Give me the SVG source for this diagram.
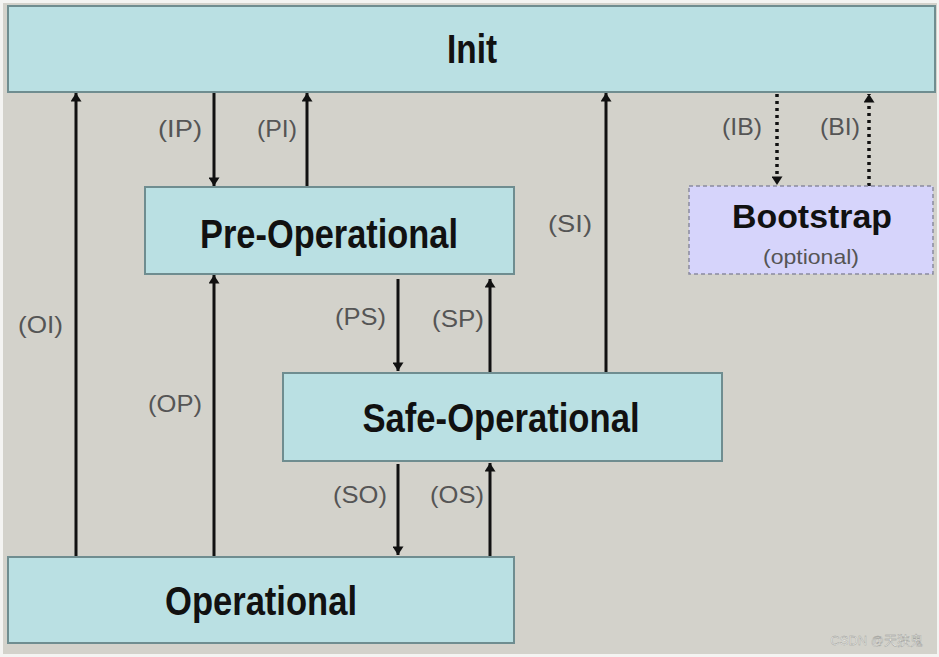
<svg xmlns="http://www.w3.org/2000/svg" width="939" height="657" viewBox="0 0 939 657">
<style>
.box{fill:#bae0e3;stroke:#6f8d90;stroke-width:2}
.boot{fill:#d6d4fb;stroke:#8a8aa0;stroke-width:1.5;stroke-dasharray:4 3}
.title{font-family:"Liberation Sans",Arial,sans-serif;font-weight:bold;fill:#111;font-size:40px}
.lbl{font-family:"Liberation Sans",Arial,sans-serif;fill:#555;font-size:24px}
.ln{stroke:#111;stroke-width:3;fill:none}
.dot{stroke:#111;stroke-width:3.5;fill:none;stroke-dasharray:3 4}
</style>
<defs>
<marker id="ah" viewBox="0 0 10 13" refX="10" refY="6.5" markerWidth="13" markerHeight="11" markerUnits="userSpaceOnUse" orient="auto">
<path d="M0,0 L10,6.5 L0,13 Z" fill="#111"/>
</marker>
</defs>
<rect x="0" y="0" width="939" height="657" fill="#f4f4f2"/>
<rect x="3" y="3" width="934" height="651" fill="#d3d2cb"/>
<g id="connectors">
<line class="ln" x1="76" y1="556" x2="76" y2="93" marker-end="url(#ah)"/>
<line class="ln" x1="214" y1="93" x2="214" y2="186" marker-end="url(#ah)"/>
<line class="ln" x1="307" y1="186" x2="307" y2="93" marker-end="url(#ah)"/>
<line class="ln" x1="214" y1="556" x2="214" y2="275" marker-end="url(#ah)"/>
<line class="ln" x1="398" y1="279" x2="398" y2="371" marker-end="url(#ah)"/>
<line class="ln" x1="490" y1="372" x2="490" y2="279" marker-end="url(#ah)"/>
<line class="ln" x1="606" y1="372" x2="606" y2="93" marker-end="url(#ah)"/>
<line class="ln" x1="398" y1="464" x2="398" y2="555" marker-end="url(#ah)"/>
<line class="ln" x1="490" y1="556" x2="490" y2="463" marker-end="url(#ah)"/>
<line class="dot" x1="777" y1="94" x2="777" y2="185" marker-end="url(#ah)"/>
<line class="dot" x1="869" y1="186" x2="869" y2="94" marker-end="url(#ah)"/>
<text class="lbl" x="158" y="137" textLength="44" lengthAdjust="spacingAndGlyphs">(IP)</text>
<text class="lbl" x="257" y="137" textLength="40" lengthAdjust="spacingAndGlyphs">(PI)</text>
<text class="lbl" x="548" y="232" textLength="44" lengthAdjust="spacingAndGlyphs">(SI)</text>
<text class="lbl" x="722" y="135" textLength="40" lengthAdjust="spacingAndGlyphs">(IB)</text>
<text class="lbl" x="820" y="135" textLength="40" lengthAdjust="spacingAndGlyphs">(BI)</text>
<text class="lbl" x="18" y="333" textLength="45" lengthAdjust="spacingAndGlyphs">(OI)</text>
<text class="lbl" x="148" y="412" textLength="54" lengthAdjust="spacingAndGlyphs">(OP)</text>
<text class="lbl" x="335" y="325" textLength="51" lengthAdjust="spacingAndGlyphs">(PS)</text>
<text class="lbl" x="432" y="327" textLength="52" lengthAdjust="spacingAndGlyphs">(SP)</text>
<text class="lbl" x="333" y="503" textLength="54" lengthAdjust="spacingAndGlyphs">(SO)</text>
<text class="lbl" x="430" y="503" textLength="54" lengthAdjust="spacingAndGlyphs">(OS)</text>
</g>
<g id="init">
<rect class="box" x="8" y="6" width="927" height="86"/>
<text class="title" x="472" y="63" text-anchor="middle" textLength="50" lengthAdjust="spacingAndGlyphs">Init</text>
</g>
<g id="preop">
<rect class="box" x="145" y="187" width="369" height="87"/>
<text class="title" x="329" y="248" text-anchor="middle" textLength="258" lengthAdjust="spacingAndGlyphs">Pre-Operational</text>
</g>
<g id="safeop">
<rect class="box" x="283" y="373" width="439" height="88"/>
<text class="title" x="501" y="432" text-anchor="middle" textLength="277" lengthAdjust="spacingAndGlyphs">Safe-Operational</text>
</g>
<g id="op">
<rect class="box" x="8" y="557" width="506" height="86"/>
<text class="title" x="261" y="615" text-anchor="middle" textLength="192" lengthAdjust="spacingAndGlyphs">Operational</text>
</g>
<g id="bootstrap">
<rect class="boot" x="689" y="186" width="244" height="88"/>
<text x="812" y="228" text-anchor="middle" font-family="Liberation Sans, Arial, sans-serif" font-weight="bold" font-size="34" fill="#111" textLength="160" lengthAdjust="spacingAndGlyphs">Bootstrap</text>
<text x="811" y="264" text-anchor="middle" font-family="Liberation Sans, Arial, sans-serif" font-size="21" fill="#555" textLength="96" lengthAdjust="spacingAndGlyphs">(optional)</text>
</g>
<text x="923" y="645" text-anchor="end" font-family="Liberation Sans, Noto Sans CJK SC, sans-serif" font-size="13" fill="#f2f2f0" stroke="#9a9a96" stroke-width="0.4">CSDN @天狭鬼</text>
</svg>
